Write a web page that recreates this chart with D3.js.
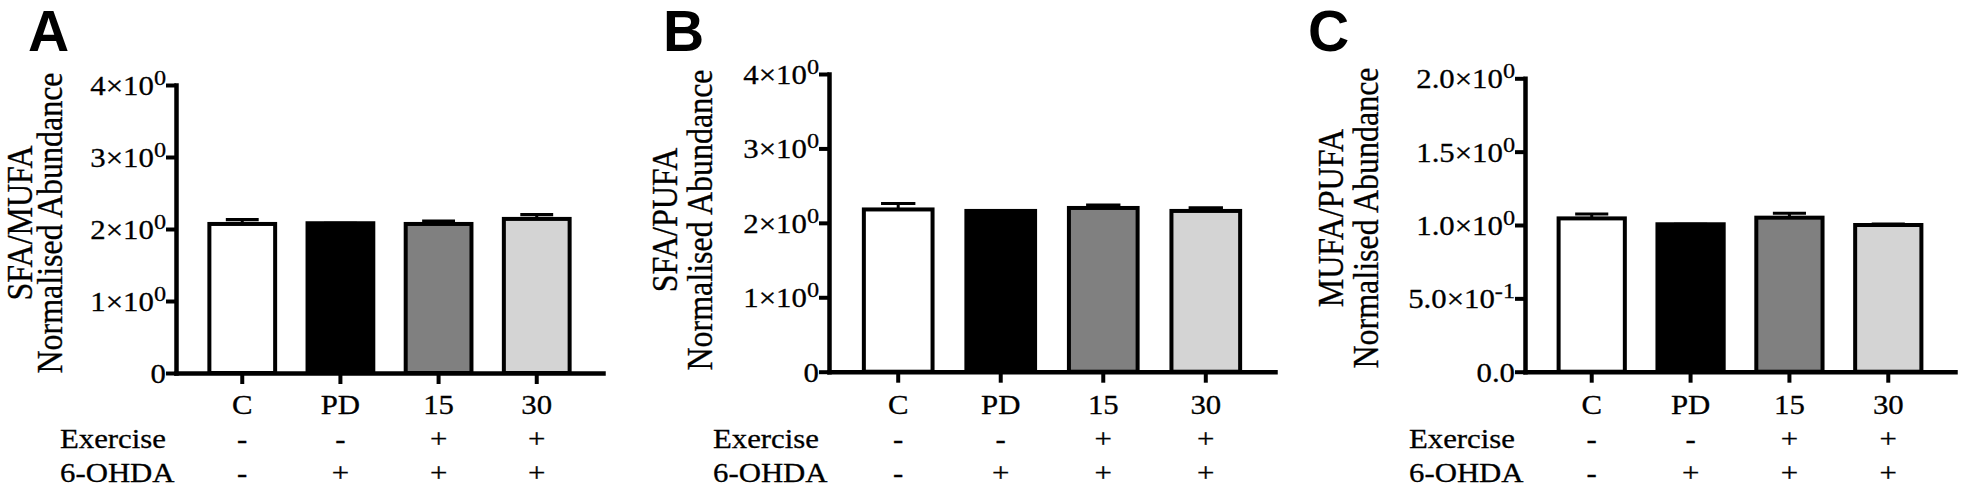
<!DOCTYPE html>
<html>
<head>
<meta charset="utf-8">
<script src="https://cdn.jsdelivr.net/npm/d3@7"></script>
<style>
  html, body { margin: 0; padding: 0; background: #fff; }
  svg { display: block; }
</style>
</head>
<body>
<svg id="chart" width="1965" height="493"></svg>
<script>
// ---------------- data ----------------
const categories = ["C", "PD", "15", "30"];
const exerciseRow = ["-", "-", "+", "+"];
const ohdaRow = ["-", "+", "+", "+"];
const barFills = ["#ffffff", "#000000", "#808080", "#d4d4d4"];

const sfaMufa = [2.07, 2.08, 2.07, 2.14];
const sfaMufaErr = [0.06, 0, 0.04, 0.06];

const sfaPufa = [2.18, 2.16, 2.20, 2.16];
const sfaPufaErr = [0.08, 0, 0.04, 0.04];

const mufaPufa = [1.045, 1.005, 1.05, 1.0];
const mufaPufaErr = [0.03, 0, 0.03, 0.006];

const ticksAB = [0, 1, 2, 3, 4];
const tickBaseAB = ["0", "1\u00d710", "2\u00d710", "3\u00d710", "4\u00d710"];
const tickExpAB = ["", "0", "0", "0", "0"];

const ticksC = [0, 0.5, 1.0, 1.5, 2.0];
const tickBaseC = ["0.0", "5.0\u00d710", "1.0\u00d710", "1.5\u00d710", "2.0\u00d710"];
const tickExpC = ["", "-1", "0", "0", "0"];

// ---------------- layout ----------------
const SX = 1.1; // horizontal stretch of the source figure's text
const SERIF = "'Liberation Serif', 'Times New Roman', serif";
const SANS = "'Liberation Sans', Arial, sans-serif";
const LW = 4;

const panels = [
  { letter: "A", letterX: 28, axisX: 176, xEnd: 603, y0: 373, yTop: 85, yMax: 4,
    values: sfaMufa, errs: sfaMufaErr, ticks: ticksAB, tBase: tickBaseAB, tExp: tickExpAB,
    title1: "SFA/MUFA", t1x: 32, t2x: 62, tcy: 223 },
  { letter: "B", letterX: 663, axisX: 829, xEnd: 1275, y0: 371.7, yTop: 74, yMax: 4,
    values: sfaPufa, errs: sfaPufaErr, ticks: ticksAB, tBase: tickBaseAB, tExp: tickExpAB,
    title1: "SFA/PUFA", t1x: 677, t2x: 712, tcy: 220 },
  { letter: "C", letterX: 1308, axisX: 1525, xEnd: 1955, y0: 371.7, yTop: 78.3, yMax: 2,
    values: mufaPufa, errs: mufaPufaErr, ticks: ticksC, tBase: tickBaseC, tExp: tickExpC,
    title1: "MUFA/PUFA", t1x: 1343, t2x: 1378, tcy: 218 }
];

const svg = d3.select("#chart");

function stext(g, x, y, str, size, anchor, extra) {
  return g.append("text")
    .attr("transform", `translate(${x},${y}) scale(${SX},1)` + (extra || ""))
    .attr("text-anchor", anchor)
    .attr("font-family", SERIF)
    .attr("font-size", size)
    .attr("fill", "#000")
    .attr("stroke", "#000")
    .attr("stroke-width", 0.3)
    .text(str);
}

panels.forEach(p => {
  const g = svg.append("g");

  const x = d3.scaleBand()
    .domain(categories)
    .range([p.axisX, p.xEnd])
    .paddingInner(0.33)
    .paddingOuter(0.34);

  const y = d3.scaleLinear()
    .domain([0, p.yMax])
    .range([p.y0, p.yTop]);

  // bars
  g.selectAll("rect.bar")
    .data(categories)
    .join("rect")
    .attr("class", "bar")
    .attr("x", d => x(d))
    .attr("width", x.bandwidth())
    .attr("y", (d, i) => y(p.values[i]))
    .attr("height", (d, i) => y(0) - y(p.values[i]))
    .attr("fill", (d, i) => barFills[i])
    .attr("stroke", "#000")
    .attr("stroke-width", LW);

  // error bars (upper only)
  categories.forEach((c, i) => {
    const cx = x(c) + x.bandwidth() / 2;
    const yv = y(p.values[i]);
    const ye = y(p.values[i] + p.errs[i]);
    g.append("line")
      .attr("x1", cx).attr("x2", cx)
      .attr("y1", yv).attr("y2", ye)
      .attr("stroke", "#000").attr("stroke-width", 3);
    g.append("line")
      .attr("x1", cx - x.bandwidth() / 4).attr("x2", cx + x.bandwidth() / 4)
      .attr("y1", ye).attr("y2", ye)
      .attr("stroke", "#000").attr("stroke-width", 3.2);
  });

  // axes
  const yAxis = d3.axisLeft(y).tickValues(p.ticks).tickSize(10).tickSizeOuter(0).tickFormat("");
  const gy = g.append("g").attr("transform", `translate(${p.axisX},0)`).call(yAxis);
  const xAxis = d3.axisBottom(x).tickSize(11).tickSizeOuter(0).tickFormat("");
  const gx = g.append("g").attr("transform", `translate(0,${p.y0})`).call(xAxis);
  [gy, gx].forEach(a => {
    a.select(".domain").attr("stroke", "#000").attr("stroke-width", 4.5).attr("stroke-linecap", "square");
    a.selectAll(".tick line").attr("stroke", "#000").attr("stroke-width", 4);
  });

  // y tick labels
  p.ticks.forEach((v, i) => {
    const t = g.append("text")
      .attr("transform", `translate(${p.axisX - 10},${y(v) + 10}) scale(${SX},1)`)
      .attr("text-anchor", "end")
      .attr("font-family", SERIF)
      .attr("font-size", 28)
      .attr("fill", "#000")
      .attr("stroke", "#000")
      .attr("stroke-width", 0.3);
    t.append("tspan").text(p.tBase[i]);
    if (p.tExp[i]) {
      t.append("tspan").attr("font-size", 22).attr("dy", -10).text(p.tExp[i]);
    }
  });

  // category labels and +/- rows
  categories.forEach((c, i) => {
    const cx = x(c) + x.bandwidth() / 2;
    stext(g, cx, 414, c, 28, "middle");
    stext(g, cx, 448, exerciseRow[i], 28, "middle");
    stext(g, cx, 482, ohdaRow[i], 28, "middle");
  });
  stext(g, p.axisX - 116, 448, "Exercise", 28, "start");
  stext(g, p.axisX - 116, 482, "6-OHDA", 28, "start");

  // y-axis title (two lines, rotated)
  stext(g, p.t1x, p.tcy, p.title1, 32, "middle", " rotate(-90)");
  stext(g, p.t2x, p.tcy, "Normalised Abundance", 32, "middle", " rotate(-90)");

  // panel letter
  g.append("text")
    .attr("x", p.letterX).attr("y", 51)
    .attr("font-family", SANS)
    .attr("font-weight", "bold")
    .attr("font-size", 57)
    .attr("fill", "#000")
    .text(p.letter);
});
</script>
</body>
</html>
